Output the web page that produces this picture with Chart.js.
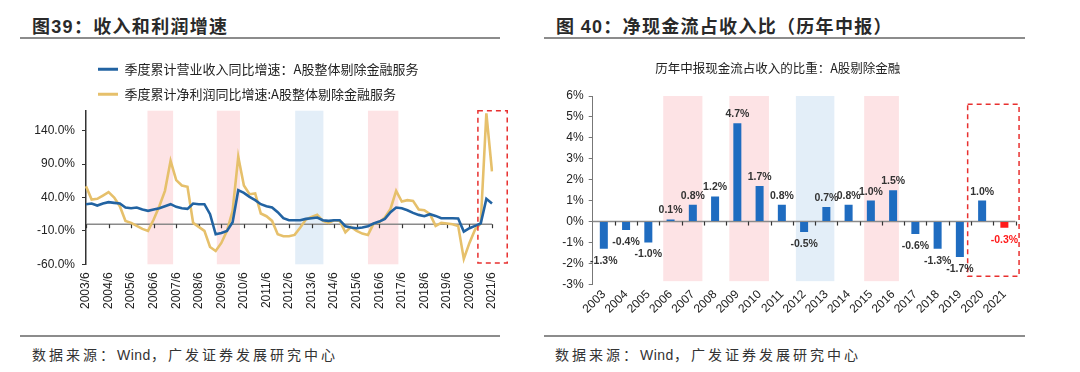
<!DOCTYPE html>
<html><head><meta charset="utf-8">
<script src="https://cdn.jsdelivr.net/npm/chart.js@4.4.0/dist/chart.umd.min.js"></script>
<style>
html,body{margin:0;padding:0;background:#fff;width:1080px;height:372px;overflow:hidden;font-family:"Noto Sans CJK SC",sans-serif;}
.h{position:absolute;font-weight:bold;font-size:18px;line-height:18px;color:#2a2a2a;letter-spacing:1.3px;white-space:nowrap}
.h b{font-family:"Liberation Sans",Arial,sans-serif}
.rule{position:absolute;height:2px;background:#8c8c8c}
.src{position:absolute;font-size:14px;line-height:14px;color:#333;letter-spacing:3px;white-space:nowrap}
.src span{font-family:"Liberation Sans",Arial,sans-serif;letter-spacing:0.5px}
canvas{position:absolute}
</style></head><body>
<div class="h" style="left:32px;top:16px">图<b>39</b>：收入和利润增速</div>
<div class="h" style="left:556px;top:16px">图 <b>40</b>：净现金流占收入比（历年中报）</div>
<div class="rule" style="left:20px;top:37px;width:480px"></div>
<div class="rule" style="left:544px;top:37px;width:481px"></div>
<div class="rule" style="left:20px;top:335px;width:480px"></div>
<div class="rule" style="left:544px;top:335px;width:481px"></div>
<div class="src" style="left:32px;top:347px">数据来源：<span>Wind</span>，广发证券发展研究中心</div>
<div class="src" style="left:555px;top:347px">数据来源：<span>Wind</span>，广发证券发展研究中心</div>
<canvas id="c1" width="520" height="295" style="left:0;top:40px"></canvas>
<canvas id="c2" width="486" height="295" style="left:540px;top:40px"></canvas>
<script>
// ---------- Chart 39 data ----------
const quarters = [
 '2003/6','2003/9','2003/12',
 '2004/3','2004/6','2004/9','2004/12',
 '2005/3','2005/6','2005/9','2005/12',
 '2006/3','2006/6','2006/9','2006/12',
 '2007/3','2007/6','2007/9','2007/12',
 '2008/3','2008/6','2008/9','2008/12',
 '2009/3','2009/6','2009/9','2009/12',
 '2010/3','2010/6','2010/9','2010/12',
 '2011/3','2011/6','2011/9','2011/12',
 '2012/3','2012/6','2012/9','2012/12',
 '2013/3','2013/6','2013/9','2013/12',
 '2014/3','2014/6','2014/9','2014/12',
 '2015/3','2015/6','2015/9','2015/12',
 '2016/3','2016/6','2016/9','2016/12',
 '2017/3','2017/6','2017/9','2017/12',
 '2018/3','2018/6','2018/9','2018/12',
 '2019/3','2019/6','2019/9','2019/12',
 '2020/3','2020/6','2020/9','2020/12',
 '2021/3','2021/6'
];
const revenueYoY = [
 30,31,28,
 31,33,32,31,
 25,24,25,22,
 20,22,24,27,
 30,26,24,23,
 31,30,30,15,
 -15,-13,-10,3,
 51,47,41,36,
 30,27,25,18,
 9,6,6,6,
 8,9,10,6,
 5,6,6,-3,
 -5,-6,-5,-3,
 1,4,8,18,
 25,24,21,17,
 14,12,15,12.5,
 9,9,9,8.5,
 -11,-6,-2.5,1,
 38,31
];
const profitYoY = [
 57,37,38,
 43,48,40,27,
 5,2,-2.5,-7,
 -10,7,27,50,
 95,66,58,56,
 2,-4,-10,-34,
 -40,-28,-10,20,
 101,58,45,46,
 16,12,5,-15,
 -18,-18,-16,-5,
 7,11,14,5,
 2,6,5,-12,
 -4,-10,-14,-16,
 1,3,10,23,
 50,34,36,35,
 22,21,15,-2.5,
 2,1,0,-2.5,
 -52,-28,-8,1,
 166,79
];
const leftYTicks = [-60,-10,40,90,140];
const leftPinkPeriods = [[10.9,15.45],[23.2,27.3],[50.0,55.4]];
const leftBluePeriods = [[37.1,42.1]];
const leftFocus = [69.5,74.7];

// ---------- Chart 40 data ----------
const years = ['2003','2004','2005','2006','2007','2008','2009','2010','2011','2012','2013','2014','2015','2016','2017','2018','2019','2020','2021'];
const cashRatio = [-1.3,-0.4,-1.0,0.1,0.8,1.2,4.7,1.7,0.8,-0.5,0.7,0.8,1.0,1.5,-0.6,-1.3,-1.7,1.0,-0.3];
const highlightYears = ['2021'];
const rightPinkPeriods = [[2.67,4.43],[5.64,7.42],[11.7,13.26]];
const rightBluePeriods = [[8.63,10.36]];
const rightFocus = [16.35,18.66];

const BLUE_LINE = '#2263a2', GOLD = '#e6c06b', PINK = '#fde3e5', LBLUE = '#e3eef8', RED = '#e8302f';
const BAR_BLUE = '#1f6cc0', BAR_RED = '#ff1a1a';

Chart.defaults.font.family = '"Liberation Sans", Arial, "Noto Sans CJK SC", sans-serif';
Chart.defaults.color = '#222';

const decor = {
  id: 'decor',
  beforeDatasetsDraw(chart, args, o) {
    const {ctx, chartArea, scales: {x, y}} = chart;
    ctx.save();
    const yt = y.getPixelForValue(o.bandTop), yb = y.getPixelForValue(o.bandBottom);
    ctx.fillStyle = PINK;
    o.pink.forEach(([a, b]) => { const xa = x.getPixelForValue(a), xb = x.getPixelForValue(b); ctx.fillRect(xa, yt, xb - xa, yb - yt); });
    ctx.fillStyle = LBLUE;
    o.blue.forEach(([a, b]) => { const xa = x.getPixelForValue(a), xb = x.getPixelForValue(b); ctx.fillRect(xa, yt, xb - xa, yb - yt); });
    const y0 = y.getPixelForValue(0);
    ctx.strokeStyle = '#8a8a8a'; ctx.lineWidth = 1.5;
    ctx.beginPath(); ctx.moveTo(chartArea.left, y0); ctx.lineTo(chartArea.right, y0); ctx.stroke();
    ctx.strokeStyle = '#333'; ctx.lineWidth = 1.2;
    o.tickAt.forEach(v => { const px = Math.round(x.getPixelForValue(v)) + 0.5; ctx.beginPath(); ctx.moveTo(px, y0); ctx.lineTo(px, y0 + 4); ctx.stroke(); });
    ctx.restore();
  },
  afterDatasetsDraw(chart, args, o) {
    const {ctx, scales: {x, y}} = chart;
    ctx.save();
    ctx.strokeStyle = RED; ctx.lineWidth = 1.5; ctx.setLineDash([5, 4]);
    const xa = x.getPixelForValue(o.focus[0]), xb = x.getPixelForValue(o.focus[1]);
    const ya = y.getPixelForValue(o.focusTop), yb = y.getPixelForValue(o.focusBottom);
    ctx.strokeRect(xa, ya, xb - xa, yb - ya);
    ctx.restore();
  }
};

const legendLabels = chart => Chart.defaults.plugins.legend.labels.generateLabels(chart).map(l => Object.assign(l, {lineWidth: 0}));

new Chart(document.getElementById('c1'), {
  type: 'line',
  data: {
    labels: quarters,
    datasets: [
      {label: '季度累计营业收入同比增速：A股整体剔除金融服务', data: revenueYoY, borderColor: BLUE_LINE, backgroundColor: BLUE_LINE, borderWidth: 2.6, pointRadius: 0, tension: 0},
      {label: '季度累计净利润同比增速:A股整体剔除金融服务', data: profitYoY, borderColor: GOLD, backgroundColor: GOLD, borderWidth: 2.6, pointRadius: 0, tension: 0}
    ]
  },
  options: {
    responsive: false, animation: false, events: [],
    layout: {padding: {top: 10.7, right: 28, bottom: 10.7, left: 0}},
    plugins: {
      legend: {position: 'top', align: 'start', fullSize: false,
        labels: {boxWidth: 20, boxHeight: 3, padding: 12, font: {size: 13, family: '"Noto Sans CJK SC", sans-serif'}, color: '#222', generateLabels: legendLabels}},
      tooltip: {enabled: false},
      decor: {pink: leftPinkPeriods, blue: leftBluePeriods, bandTop: 170, bandBottom: -60,
        tickAt: quarters.map((q, i) => i).filter(i => i % 4 === 0),
        focus: leftFocus, focusTop: 170, focusBottom: -58}
    },
    scales: {
      x: {offset: false, grid: {display: false, drawTicks: false}, border: {display: false},
        ticks: {autoSkip: false, minRotation: 90, maxRotation: 90, padding: 8, font: {size: 12}, color: '#222',
          callback: (v, i) => i % 4 === 0 ? quarters[i] : ''},
        afterFit: s => { s.height = 60; }},
      y: {min: -60, max: 170,
        afterBuildTicks: s => { s.ticks = leftYTicks.map(v => ({value: v})); },
        grid: {drawOnChartArea: false, drawTicks: true, tickLength: 4, color: '#333'},
        border: {display: true, color: '#333', width: 1.5},
        ticks: {padding: 7, font: {size: 12}, color: '#222', callback: v => v.toFixed(1) + '%'},
        afterFit: s => { s.width = 86; }}
    }
  },
  plugins: [decor]
});

const barLabels = {
  id: 'barLabels',
  afterDatasetsDraw(chart) {
    const {ctx} = chart;
    const meta = chart.getDatasetMeta(0);
    ctx.save();
    ctx.font = 'bold 10.5px "Liberation Sans", Arial, sans-serif';
    ctx.textAlign = 'center'; ctx.textBaseline = 'middle';
    meta.data.forEach((bar, i) => {
      const v = cashRatio[i];
      ctx.fillStyle = highlightYears.includes(years[i]) ? BAR_RED : '#333';
      ctx.fillText(v.toFixed(1) + '%', bar.x, v >= 0 ? bar.y - 9 : bar.y + 12);
    });
    ctx.restore();
  }
};

new Chart(document.getElementById('c2'), {
  type: 'bar',
  data: {
    labels: years,
    datasets: [{label: '现金流占收入比重', data: cashRatio,
      backgroundColor: c => highlightYears.includes(years[c.dataIndex]) ? BAR_RED : BAR_BLUE,
      barPercentage: 0.36, categoryPercentage: 1}]
  },
  options: {
    responsive: false, animation: false, events: [],
    layout: {padding: {top: 0, right: 10.5, bottom: 10.7, left: 0}},
    plugins: {
      legend: {display: false}, tooltip: {enabled: false},
      title: {display: true, text: '历年中报现金流占收入的比重：A股剔除金融', color: '#222',
        font: {size: 12.5, weight: 'normal', family: '"Noto Sans CJK SC", sans-serif'}, padding: {top: 20.5, bottom: 20.5}},
      decor: {pink: rightPinkPeriods, blue: rightBluePeriods, bandTop: 6, bandBottom: -2.85,
        tickAt: years.map((yv, i) => i + 0.5),
        focus: rightFocus, focusTop: 5.6, focusBottom: -2.62}
    },
    scales: {
      x: {offset: true, grid: {display: false, drawTicks: false}, border: {display: false},
        ticks: {autoSkip: false, minRotation: 45, maxRotation: 45, padding: 3, font: {size: 12}, color: '#222'},
        afterFit: s => { s.height = 40; }},
      y: {min: -3, max: 6, ticks: {stepSize: 1, padding: 5, font: {size: 12}, color: '#222', callback: v => v + '%'},
        grid: {drawOnChartArea: false, drawTicks: true, tickLength: 4, color: '#777'},
        border: {display: true, color: '#777', width: 1},
        afterFit: s => { s.width = 52.7; }}
    }
  },
  plugins: [decor, barLabels]
});
</script>
</body></html>
